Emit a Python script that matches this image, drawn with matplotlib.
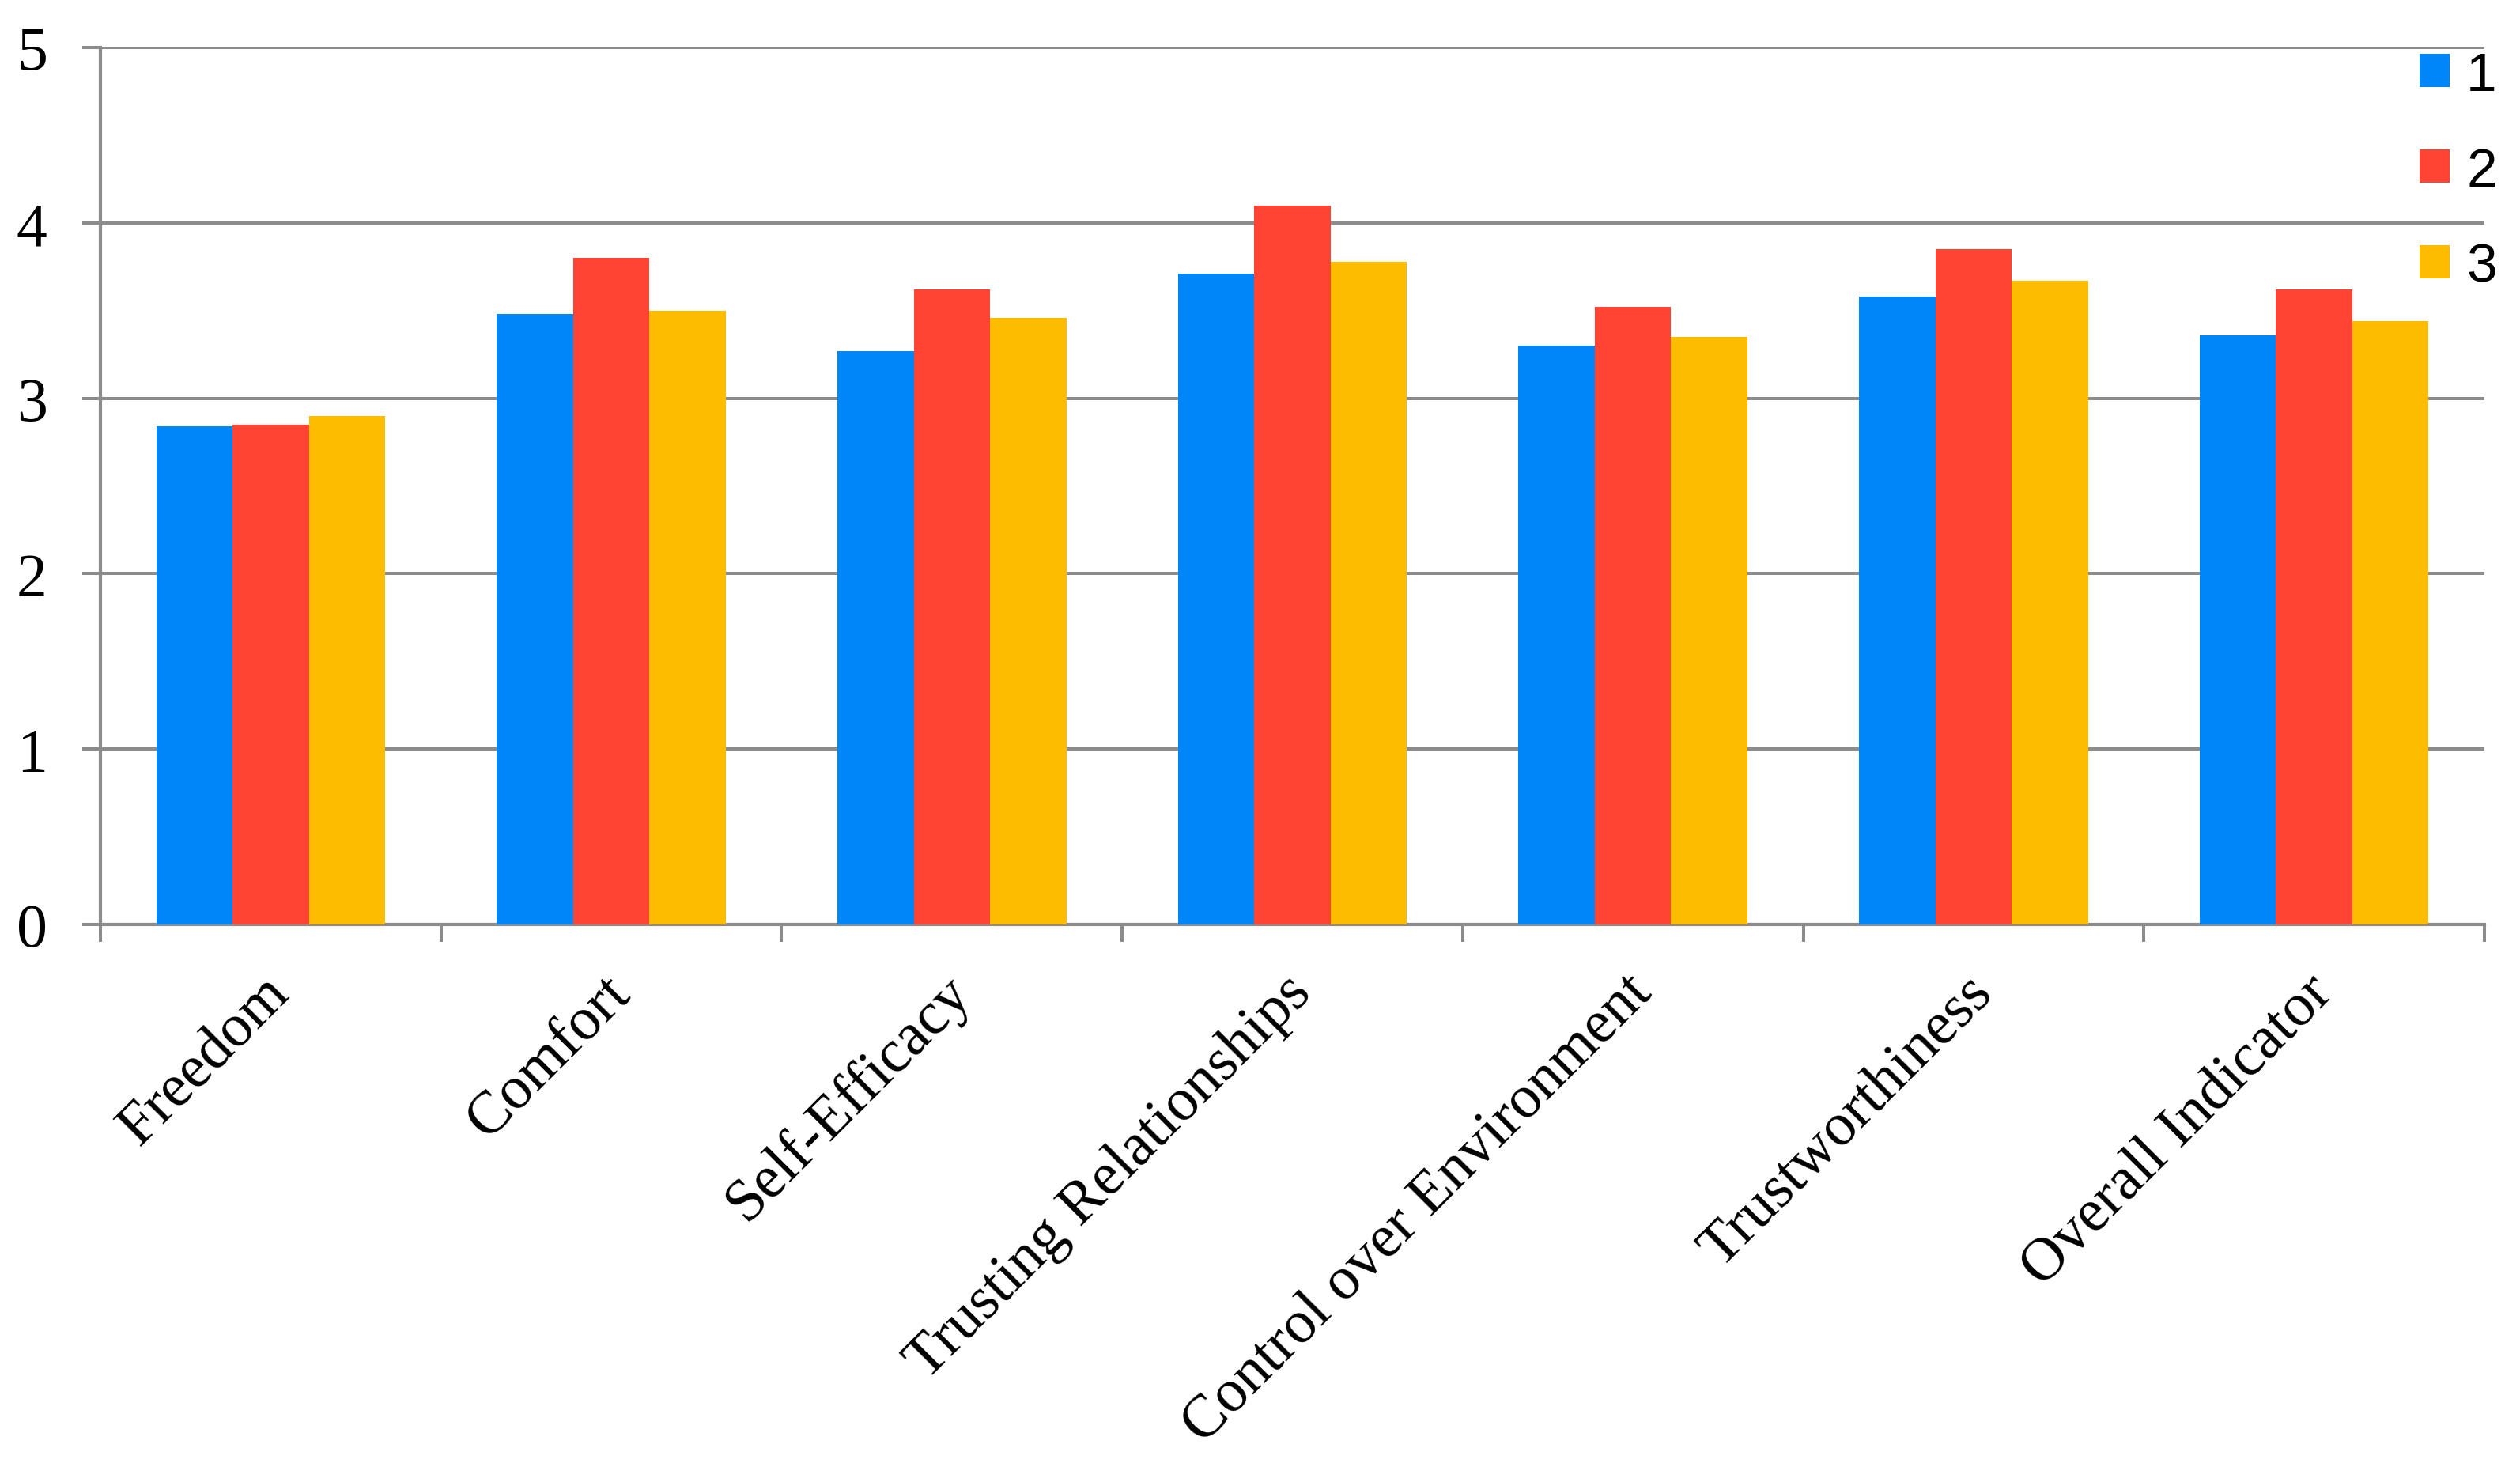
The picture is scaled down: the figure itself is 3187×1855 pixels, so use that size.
import numpy as np
import matplotlib
matplotlib.use('Agg')
import matplotlib.pyplot as plt
import matplotlib.transforms as mtransforms

categories = ['Freedom', 'Comfort', 'Self-Efficacy', 'Trusting Relationships',
              'Control over Environment', 'Trustworthiness', 'Overall Indicator']
series_names = ['1', '2', '3']
s1 = [2.84, 3.48, 3.27, 3.71, 3.30, 3.58, 3.36]
s2 = [2.85, 3.80, 3.62, 4.10, 3.52, 3.85, 3.62]
s3 = [2.90, 3.50, 3.46, 3.78, 3.35, 3.67, 3.44]
colors = ['#0086F8', '#FF4433', '#FDBC00']
yticks = [0, 1, 2, 3, 4, 5]

grey = '#8C8C8C'

fig = plt.figure(figsize=(31.87, 18.56), dpi=100)
ax = fig.add_axes([127/3187, 1 - 1170/1856, (3142-127)/3187, (1170-61)/1856])

x = np.arange(len(categories))
w = 0.224
for i, (vals, c, name) in enumerate(zip([s1, s2, s3], colors, series_names)):
    ax.bar(x + (i - 1) * w, vals, width=w, color=c, label=name, zorder=3, linewidth=0)

ax.set_xlim(-0.5, len(categories) - 0.5)
ax.set_ylim(0, 5)
ax.set_yticks(yticks)
ax.yaxis.grid(True, color=grey, linewidth=2.9, zorder=0)
ax.set_axisbelow(True)

for s in ['top', 'right']:
    ax.spines[s].set_visible(False)
for s in ['left', 'bottom']:
    ax.spines[s].set_color(grey)
    ax.spines[s].set_linewidth(3.0)

ax.tick_params(axis='y', direction='out', length=16.5, width=2.9, color=grey,
               pad=32, labelsize=56)
for lab in ax.get_yticklabels():
    lab.set_fontfamily('Liberation Serif')

# category labels at centers, tick marks at boundaries
ax.set_xticks(x)
ax.set_xticks(np.arange(len(categories) + 1) - 0.5, minor=True)
ax.tick_params(axis='x', which='major', length=0, pad=54)
ax.tick_params(axis='x', which='minor', direction='out', length=16, width=2.9, color=grey)
ax.set_xticklabels(categories, rotation=45, ha='right', va='center',
                   rotation_mode='anchor', fontsize=55, fontfamily='Liberation Serif')
offset = mtransforms.ScaledTranslation(0.13, 0, fig.dpi_scale_trans)
for lab in ax.get_xticklabels():
    lab.set_transform(lab.get_transform() + offset)

fig.legend(loc='upper left', bbox_to_anchor=(3060/3187, 0.965), frameon=False,
           prop={'family': 'Liberation Sans', 'size': 50},
           handlelength=0.55, handleheight=0.55, handletextpad=0.3,
           labelspacing=0.82, borderpad=0, borderaxespad=0)

fig.savefig('out.png', dpi=100, facecolor='white')
